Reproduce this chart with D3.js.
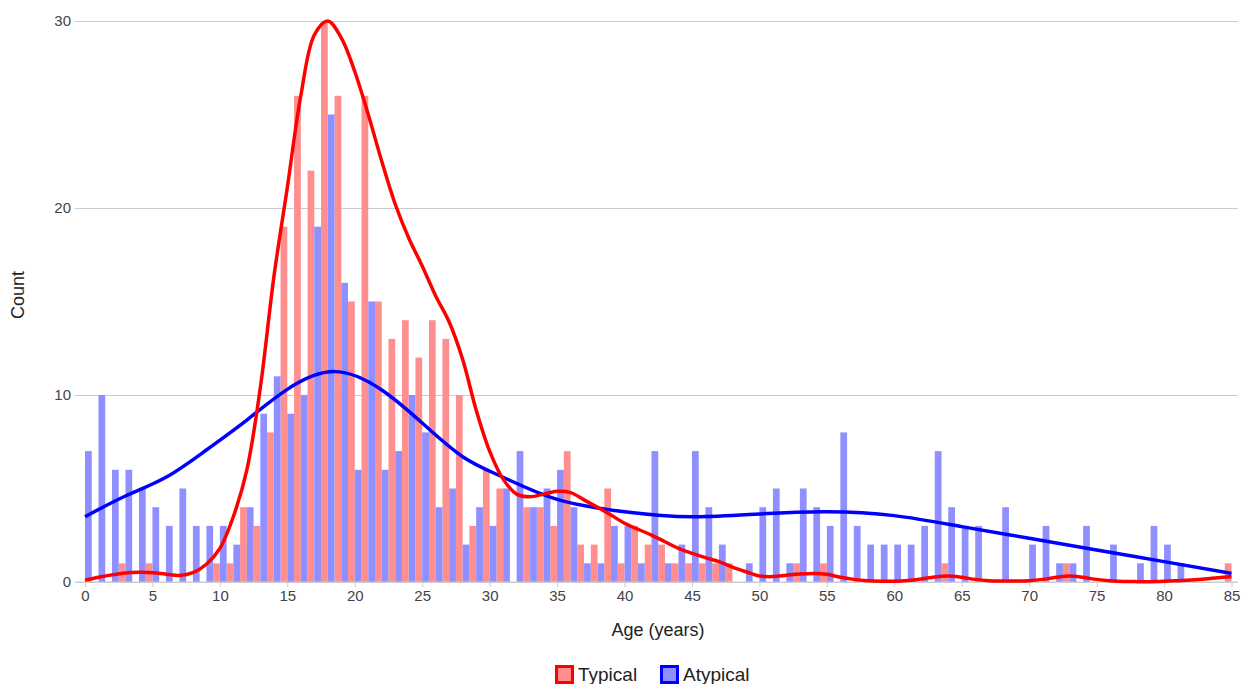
<!DOCTYPE html>
<html>
<head>
<meta charset="utf-8">
<script src="https://cdn.jsdelivr.net/npm/d3@7"></script>
<style>
  body { margin: 0; background: #fff; }
  svg { display: block; font-family: "Liberation Sans", Arial, sans-serif; }
  .axis text { fill: #444; font-size: 15px; }
  .axis path.domain { display: none; }
</style>
</head>
<body>
<div id="chart"></div>
<script>
const WIDTH = 1241;
const HEIGHT = 684;
const PLOT = { left: 75, right: 1238, top: 21, bottom: 582 };

// histogram counts per age (0..85)
const ages = d3.range(0, 86);
const typical = [
  0, 0, 0, 1, 0, 1, 0, 0, 0, 0,
  1, 1, 4, 3, 8, 19, 26, 22, 30, 26,
  15, 26, 15, 13, 14, 12, 14, 13, 10, 3,
  6, 5, 0, 4, 4, 3, 7, 2, 2, 5,
  1, 3, 2, 2, 1, 1, 1, 1, 1, 0,
  0, 0, 0, 1, 0, 1, 0, 0, 0, 0,
  0, 0, 0, 0, 1, 0, 0, 0, 0, 0,
  0, 0, 0, 1, 0, 0, 0, 0, 0, 0,
  0, 0, 0, 0, 0, 1
];
const atypical = [
  7, 10, 6, 6, 5, 4, 3, 5, 3, 3,
  3, 2, 4, 9, 11, 9, 10, 19, 25, 16,
  6, 15, 6, 7, 10, 8, 4, 5, 2, 4,
  3, 5, 7, 4, 5, 6, 4, 1, 1, 3,
  3, 1, 7, 1, 2, 7, 4, 2, 0, 1,
  4, 5, 1, 5, 4, 3, 8, 3, 2, 2,
  2, 2, 3, 7, 4, 3, 3, 0, 4, 0,
  2, 3, 1, 1, 3, 0, 2, 0, 1, 3,
  2, 1, 0, 0, 0, 0
];

// smoothed density curves
const typicalCurveAges = d3.range(0, 86);
const typicalCurve = [
  0.1, 0.25, 0.38, 0.48, 0.52, 0.5, 0.42, 0.35, 0.5, 0.95,
  1.8, 3.5, 6.0, 10.4, 16.3, 21.1, 26.0, 29.25, 30.0, 29.1,
  27.3, 25.0, 22.5, 20.2, 18.4, 16.9, 15.3, 13.9, 11.9, 9.2,
  7.0, 5.5, 4.7, 4.56, 4.7, 4.85, 4.78, 4.39, 3.99, 3.58,
  3.14, 2.82, 2.51, 2.15, 1.8, 1.53, 1.3, 1.09, 0.8, 0.55,
  0.32, 0.29, 0.36, 0.43, 0.46, 0.41, 0.25, 0.14, 0.07, 0.04,
  0.04, 0.08, 0.16, 0.27, 0.32, 0.25, 0.14, 0.07, 0.05, 0.05,
  0.07, 0.14, 0.25, 0.32, 0.25, 0.14, 0.07, 0.03, 0.02, 0.02,
  0.04, 0.07, 0.11, 0.16, 0.23, 0.29
];
const atypicalCurveAges = [
  0, 3, 6, 9, 12, 15, 18.5, 22, 25, 28, 31, 35, 40, 45, 50, 55, 60, 65, 70, 75, 80, 85
];
const atypicalCurve = [
  3.49, 4.6, 5.6, 7.06, 8.66, 10.3, 11.25, 10.27, 8.5, 6.7, 5.6, 4.42, 3.76, 3.49, 3.64, 3.76,
  3.55, 2.96, 2.34, 1.71, 1.09, 0.46
];

const yTicks = [0, 10, 20, 30];
const xTicks = d3.range(0, 86, 5);

const series = [
  { name: 'Typical', counts: typical, curveX: typicalCurveAges, curveY: typicalCurve,
    line: '#ff0000', fill: '#ff8f8f', offset: -0.5, curve: d3.curveCatmullRom.alpha(0.5) },
  { name: 'Atypical', counts: atypical, curveX: atypicalCurveAges, curveY: atypicalCurve,
    line: '#0000ff', fill: '#8f8fff', offset: 0, curve: d3.curveNatural }
];

const svg = d3.select('#chart')
  .append('svg')
  .attr('width', WIDTH)
  .attr('height', HEIGHT);

const x = d3.scaleLinear().domain([0, 85]).range([85, 1231.5]);
const y = d3.scaleLinear().domain([0, 30]).range([PLOT.bottom, PLOT.top]);

// gridlines + y labels
const gy = svg.append('g')
  .attr('class', 'y axis')
  .attr('transform', 'translate(' + PLOT.left + ',0)')
  .call(d3.axisLeft(y).tickValues(yTicks).tickSize(-(PLOT.right - PLOT.left)).tickPadding(4));
gy.selectAll('.tick line').attr('stroke', '#cccccc');

// bars
svg.append('clipPath').attr('id', 'plot-clip')
  .append('rect')
  .attr('x', PLOT.left).attr('y', 0)
  .attr('width', PLOT.right - PLOT.left).attr('height', PLOT.bottom);

const gBars = svg.append('g').attr('clip-path', 'url(#plot-clip)');
series.forEach((s) => {
  gBars.append('g')
    .selectAll('rect')
    .data(ages.filter((a) => s.counts[a] > 0))
    .join('rect')
    .attr('x', (a) => x(a + s.offset))
    .attr('width', (a) => x(a + s.offset + 0.5) - x(a + s.offset))
    .attr('y', (a) => y(s.counts[a]))
    .attr('height', (a) => y(0) - y(s.counts[a]))
    .attr('fill', s.fill);
});

// x axis
const gx = svg.append('g')
  .attr('class', 'x axis')
  .attr('transform', 'translate(0,' + PLOT.bottom + ')')
  .call(d3.axisBottom(x).tickValues(xTicks).tickSize(5).tickPadding(3));
gx.selectAll('.tick line').attr('stroke', '#cccccc');
gx.append('line')
  .attr('x1', PLOT.left).attr('x2', PLOT.right)
  .attr('stroke', '#cccccc');

// density curves
series.slice().reverse().forEach((s) => {
  const line = d3.line()
    .x((d) => x(d[0]))
    .y((d) => y(d[1]))
    .curve(s.curve);
  svg.append('path')
    .datum(s.curveX.map((a, i) => [a, s.curveY[i]]))
    .attr('d', line)
    .attr('fill', 'none')
    .attr('stroke', s.line)
    .attr('stroke-width', 3.5)
    .attr('stroke-linejoin', 'round');
});

// axis titles
svg.append('text')
  .attr('x', 658)
  .attr('y', 636)
  .attr('text-anchor', 'middle')
  .attr('fill', '#222')
  .style('font-size', '18px')
  .text('Age (years)');

svg.append('text')
  .attr('transform', 'translate(24,295) rotate(-90)')
  .attr('text-anchor', 'middle')
  .attr('fill', '#222')
  .style('font-size', '18px')
  .text('Count');

// legend
const legendX = [555, 660];
const gLegend = svg.append('g');
series.forEach((s, i) => {
  const g = gLegend.append('g')
    .attr('transform', 'translate(' + legendX[i] + ',665)');
  g.append('rect')
    .attr('x', 1.5).attr('y', 1.5)
    .attr('width', 16).attr('height', 16)
    .attr('fill', s.fill)
    .attr('stroke', s.line)
    .attr('stroke-width', 3);
  g.append('text')
    .attr('x', 23)
    .attr('y', 16)
    .attr('fill', '#222')
    .style('font-size', '19px')
    .text(s.name);
});
</script>
</body>
</html>
